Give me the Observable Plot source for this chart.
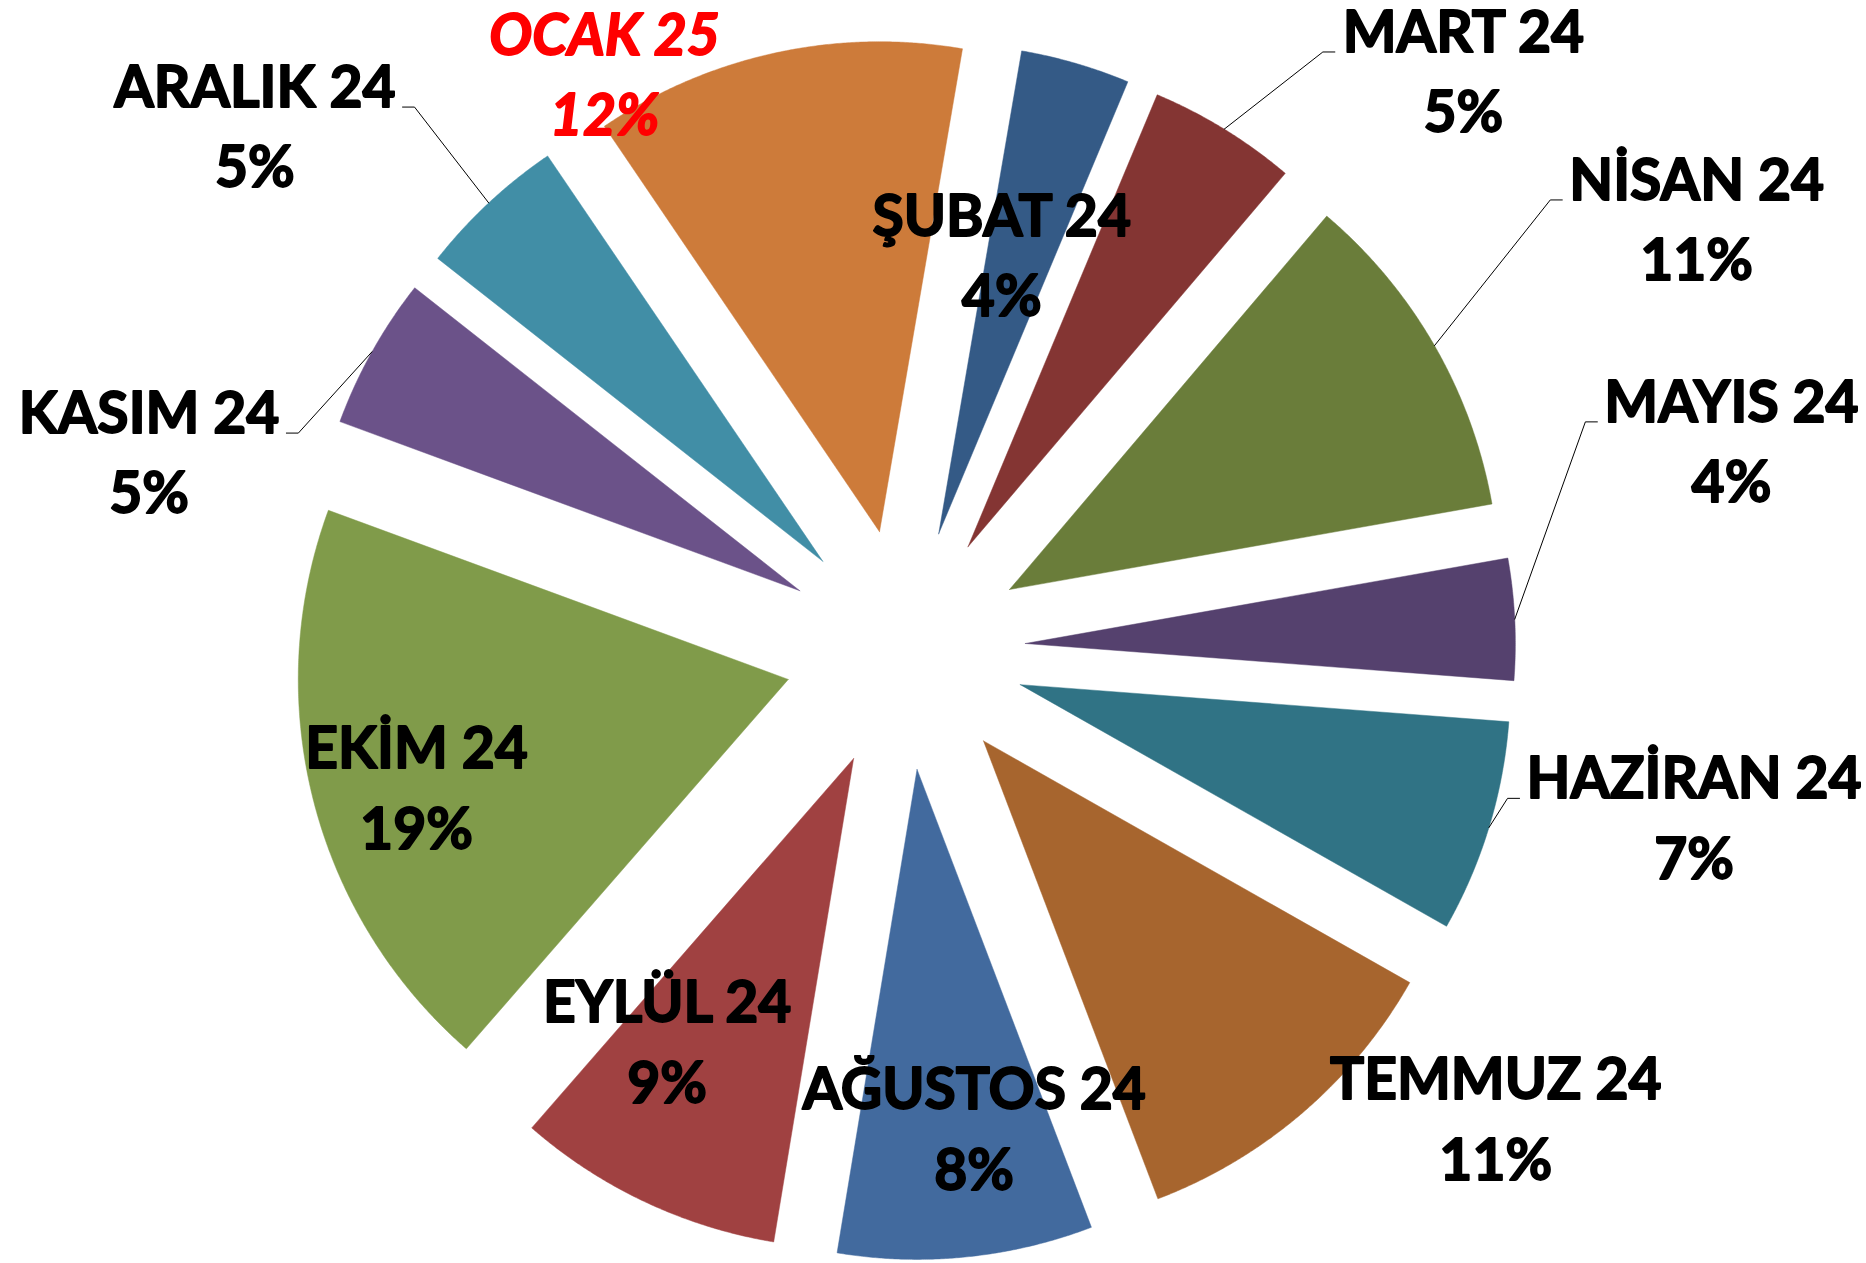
<!DOCTYPE html>
<html><head><meta charset="utf-8">
<script src="https://cdn.jsdelivr.net/npm/d3@7"></script>
<script src="https://cdn.jsdelivr.net/npm/@observablehq/plot@0.6"></script>
<style>html,body{margin:0;padding:0;background:#fff;overflow:hidden}#chart svg{display:block}</style>
</head><body><div id="chart"></div>
<script>
// ---- data ----
const months = ["ŞUBAT 24","MART 24","NİSAN 24","MAYIS 24","HAZİRAN 24","TEMMUZ 24","AĞUSTOS 24","EYLÜL 24","EKİM 24","KASIM 24","ARALIK 24","OCAK 25"];
const shares = [3.6, 4.9, 11.0, 4.0, 7.0, 11.0, 8.4, 8.8, 19.2, 5.0, 4.9, 12.2];
const sliceColors = ["#345a86","#843533","#6a7d3a","#55416e","#307385","#a7652e","#426a9e","#a04141","#809b4a","#6b5289","#418ea6","#cd7b3a"];
const highlighted = ["OCAK 25"];

// ---- layout ----
const W = 1866, H = 1263;
const CX = 904.5, CY = 649;          // pie centre (px)
const R = 490, EXPLODE = 120.5, START = 9.75; // radius, explosion, first slice angle (deg)
const FS = 57, FONT = "Lato", WEIGHT = "bold", LINE_GAP = 80.4, HEAVY = 1.8;
// label anchor (centre x, baseline of last line) in polar coords from pie centre
const labelDist  = [346.8, 761.1, 873.5, 839.5, 821.7, 793.7, 544.5, 511.7, 527.6, 768.1, 797.6, 595.4];
const labelAngle = [16.2, 47.2, 65.0, 79.9, 106.2, 131.9, 172.7, 207.7, 247.8, 280.2, 305.4, 329.7];
// side of the first text line where a leader line starts (null = no leader)
const leaderSide = [null, "left", "left", "left", "left", null, null, null, null, "right", "right", null];

const rad = a => a * Math.PI / 180;
const polar = (r, a) => [r * Math.sin(rad(a)), -r * Math.cos(rad(a))];

const total = d3.sum(shares);
let acc = START;
const slices = months.map((m, i) => {
  const a0 = acc, a1 = acc + shares[i] / total * 360;
  acc = a1;
  return {name: m, a0, a1, mid: (a0 + a1) / 2, color: sliceColors[i], value: shares[i],
          pct: Math.round(shares[i] / total * 100) + "%"};
});

// slice outlines
const slicePts = [];
for (const s of slices) {
  const [ox, oy] = polar(EXPLODE, s.mid);
  slicePts.push({name: s.name, color: s.color, x: ox, y: oy});
  const n = Math.max(8, Math.ceil((s.a1 - s.a0) * 4));
  for (let k = 0; k <= n; k++) {
    const a = s.a0 + (s.a1 - s.a0) * k / n;
    const [px, py] = polar(R, a);
    slicePts.push({name: s.name, color: s.color, x: ox + px, y: oy + py});
  }
  slicePts.push({name: s.name, color: s.color, x: ox, y: oy});
}

// labels
const ctx = document.createElement("canvas").getContext("2d");
const labels = slices.map((s, i) => {
  const [x, y] = polar(labelDist[i], labelAngle[i]);
  const italic = highlighted.includes(s.name);
  ctx.font = `${italic ? "italic " : ""}${WEIGHT} ${FS}px ${FONT}`;
  const w = ctx.measureText(s.name).width;
  return {name: s.name, text: s.name + "\n" + s.pct, x, y, w, italic, i};
});

// leader lines
const leaderPts = [];
labels.forEach((l, i) => {
  const side = leaderSide[i];
  if (!side) return;
  const s = slices[i];
  const y1 = l.y - LINE_GAP;
  const sign = side === "left" ? -1 : 1;
  const [ox, oy] = polar(EXPLODE, s.mid);
  const [px, py] = polar(R, s.mid);
  leaderPts.push({name: s.name, x: l.x + sign * (l.w / 2 + 7), y: y1});
  leaderPts.push({name: s.name, x: l.x + sign * (l.w / 2 + 19), y: y1});
  leaderPts.push({name: s.name, x: ox + px, y: oy + py});
});

const textOpts = {x: "x", y: "y", text: "text", fontSize: FS, fontWeight: WEIGHT, fontFamily: FONT,
  textAnchor: "middle", lineAnchor: "bottom", lineHeight: LINE_GAP / FS,
  strokeWidth: HEAVY, strokeLinejoin: "round"};

const chart = Plot.plot({
  width: W, height: H, margin: 0,
  style: {background: "#fff"},
  x: {domain: [-CX, W - CX], range: [0, W], axis: null},
  y: {domain: [-CY, H - CY], range: [0, H], axis: null},
  color: {type: "identity"},
  marks: [
    Plot.line(slicePts, {x: "x", y: "y", z: "name", fill: "color", stroke: "color", strokeWidth: 0.8, strokeOpacity: 0.6}),
    Plot.line(leaderPts, {x: "x", y: "y", z: "name", stroke: "#000", strokeWidth: 1}),
    Plot.text(labels.filter(d => !d.italic), {...textOpts, fill: "#000", stroke: "#000"}),
    Plot.text(labels.filter(d => d.italic), {...textOpts, fill: "#ff0000", stroke: "#ff0000", fontStyle: "italic"})
  ]
});
document.getElementById("chart").appendChild(chart);
</script>
</body></html>
